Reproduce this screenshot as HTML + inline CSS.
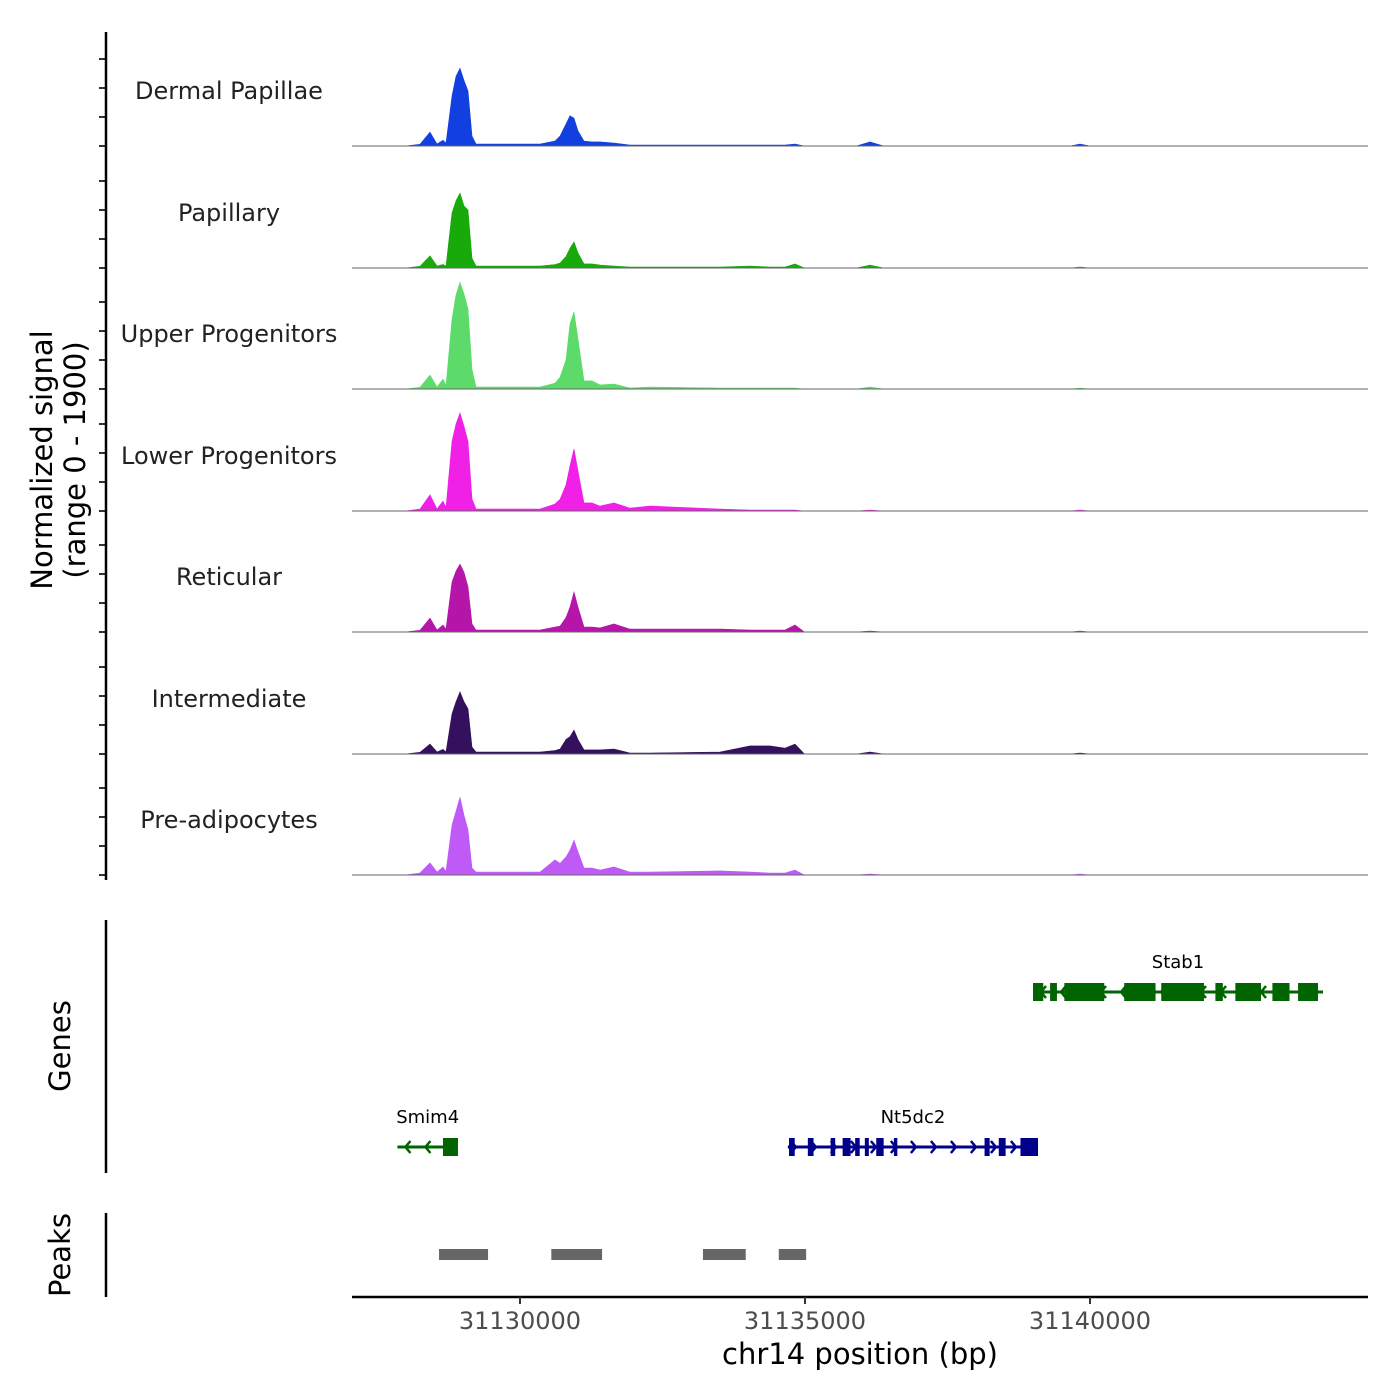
<!DOCTYPE html>
<html><head><meta charset="utf-8"><style>
body{margin:0;background:#fff}
svg{display:block;font-family:"DejaVu Sans","Liberation Sans",sans-serif}
</style></head><body>
<svg id="chart" width="1400" height="1400" viewBox="0 0 1400 1400"></svg>
<script>
// ---- data ----
const positions = [31127982,31128246,31128421,31128544,31128649,31128702,31128807,31128877,31128947,31129018,31129088,31129158,31129228,31129561,31130351,31130614,31130702,31130807,31130877,31130947,31131018,31131123,31131263,31131404,31131649,31131930,31132281,31133509,31134035,31134386,31134650,31134825,31134990,31135900,31136140,31136380,31139650,31139825,31140000,31144386];
const trackNames = ["Dermal Papillae","Papillary","Upper Progenitors","Lower Progenitors","Reticular","Intermediate","Pre-adipocytes"];
const trackColors = ["#1240E0","#18A90A","#5CDB6A","#F020E6","#B515A8","#35105E","#BF5AF7"];
const dermalPapillae   = [0,30,240,35,100,50,860,1200,1340,1130,950,170,35,35,35,85,170,380,520,480,260,85,70,70,50,17,17,17,17,17,17,35,0,0,70,0,0,35,0,0];
const papillary        = [0,30,210,35,60,35,950,1160,1290,1070,1000,170,35,35,35,60,85,200,340,450,260,70,70,50,35,17,17,17,35,17,17,70,0,0,50,0,0,17,0,0];
const upperProgenitors = [0,30,240,35,170,60,1200,1620,1840,1640,1380,340,35,35,35,100,200,500,1120,1330,860,140,140,70,85,17,35,17,17,17,17,17,0,0,35,0,0,17,0,0];
const lowerProgenitors = [0,35,280,35,170,60,1200,1500,1690,1460,1200,210,35,35,35,120,200,450,780,1070,690,140,140,85,140,50,85,35,17,17,17,17,0,0,17,0,0,17,0,0];
const reticular        = [0,30,240,35,120,50,860,1050,1170,1030,780,140,35,35,35,85,100,250,430,690,430,85,85,70,140,50,50,50,35,35,35,120,0,0,17,0,0,17,0,0];
const intermediate     = [0,30,170,35,80,35,690,900,1070,900,780,120,35,35,35,60,85,250,300,410,250,70,70,70,85,17,17,35,140,140,100,170,0,0,35,0,0,17,0,0];
const preAdipocytes    = [0,35,210,50,140,60,860,1100,1340,1030,780,120,50,50,50,260,200,310,430,600,400,120,120,85,140,50,50,70,50,35,35,85,0,0,17,0,0,17,0,0];
const trackValues = [dermalPapillae,papillary,upperProgenitors,lowerProgenitors,reticular,intermediate,preAdipocytes];
const xTicks = [31130000,31135000,31140000];
const peakStarts = [31128580,31130550,31133210,31134540];
const peakEnds   = [31129440,31131440,31133960,31135020];
const stab1Exons = [[31139000,31139180],[31139300,31139420],[31139550,31140250],[31140600,31141150],[31141250,31142000],[31142200,31142330],[31142550,31143000],[31143200,31143500],[31143650,31144000]];
const smim4Exons = [[31128649,31128912]];
const nt5Exons = [[31134720,31134820],[31135050,31135150],[31135450,31135530],[31135660,31135800],[31135880,31135960],[31136050,31136120],[31136250,31136380],[31136560,31136620],[31138150,31138240],[31138400,31138520],[31138780,31139088]];
// ---- scales ----
const X0=352,X1=1368,D0=31127053,D1=31144877;
const xs = v => X0+(v-D0)/(D1-D0)*(X1-X0);
const baselines=[146,268,389,511,632,754,875];
const ys = (v,i) => baselines[i]-v*0.058;
const NS="http://www.w3.org/2000/svg";
const svg=document.getElementById('chart');
function mk(tag,attrs,parent){const e=document.createElementNS(NS,tag);for(const k in attrs)e.setAttribute(k,attrs[k]);(parent||svg).appendChild(e);return e;}
// tracks
trackNames.forEach((name,i)=>{
  const vals=trackValues[i];
  let d=`M${xs(positions[0])},${baselines[i]}`;
  positions.forEach((p,j)=>{d+=` L${xs(p).toFixed(1)},${ys(vals[j],i).toFixed(1)}`;});
  d+=` L${xs(positions[positions.length-1])},${baselines[i]} Z`;
  const a=mk('path',{d:d,fill:trackColors[i],stroke:trackColors[i],'stroke-width':0.6});
  
  
  const bl=mk('line',{x1:X0,x2:X1,y1:baselines[i],y2:baselines[i],stroke:'#666','stroke-width':1});
  
  
  const t=mk('text',{x:229,y:baselines[i]-47,'text-anchor':'middle','font-size':24,fill:'#222'});
  t.textContent=name;
  
  
  [0,29,58,87].forEach(o=>{const tk=mk('line',{x1:99,x2:106,y1:baselines[i]-o,y2:baselines[i]-o,stroke:'#333','stroke-width':2});
    
    });
});
// left axes
[[32,880],[920,1173],[1213,1297]].forEach(r=>{const l=mk('line',{x1:106,x2:106,y1:r[0],y2:r[1],stroke:'#000','stroke-width':2.5});
  
  });
const yt=mk('text',{transform:'translate(52,460) rotate(-90)','text-anchor':'middle','font-size':29,fill:'#000'});
yt.innerHTML='<tspan x="0" dy="0">Normalized signal</tspan><tspan x="0" dy="33">(range 0 - 1900)</tspan>';


const gt=mk('text',{transform:'translate(70,1046) rotate(-90)','text-anchor':'middle','font-size':29});gt.textContent='Genes';


const pt=mk('text',{transform:'translate(70,1255) rotate(-90)','text-anchor':'middle','font-size':29});pt.textContent='Peaks';


// genes
function gene(name,start,end,exons,y,color,dir){
  const g=mk('g',{});
  
  
  mk('line',{x1:xs(start),x2:xs(end),y1:y,y2:y,stroke:color,'stroke-width':3},g);
  for(let p=xs(start)+8;p<xs(end)-4;p+=20){
    const d=dir<0?`M${p+5},${y-6} L${p},${y} L${p+5},${y+6}`:`M${p-5},${y-6} L${p},${y} L${p-5},${y+6}`;
    mk('path',{d:d,stroke:color,'stroke-width':2.5,fill:'none'},g);}
  exons.forEach(e=>mk('rect',{x:xs(e[0]),y:y-9,width:Math.max(3,xs(e[1])-xs(e[0])),height:18,fill:color},g));
  const t=mk('text',{x:(xs(start)+xs(end))/2,y:y-24,'text-anchor':'middle','font-size':18},g);t.textContent=name;
}
gene('Stab1',31139000,31144088,stab1Exons,992,'#006400',-1);
gene('Smim4',31127850,31128912,smim4Exons,1147,'#006400',-1);
gene('Nt5dc2',31134700,31139088,nt5Exons,1147,'#00008B',1);
// peaks
peakStarts.forEach((s,i)=>{const r=mk('rect',{x:xs(s),y:1249,width:xs(peakEnds[i])-xs(s),height:11,fill:'#666'});
  
  });
// x axis
const xa=mk('line',{x1:X0,x2:X1,y1:1297,y2:1297,stroke:'#000','stroke-width':2.5});


xTicks.forEach(v=>{
  const tk=mk('line',{x1:xs(v),x2:xs(v),y1:1297,y2:1304,stroke:'#333','stroke-width':2});
  
  
  const t=mk('text',{x:xs(v),y:1329,'text-anchor':'middle','font-size':24,fill:'#4d4d4d'});t.textContent=v;
  
  
});
const xt=mk('text',{x:860,y:1364,'text-anchor':'middle','font-size':29});xt.textContent='chr14 position (bp)';


</script>
</body></html>
